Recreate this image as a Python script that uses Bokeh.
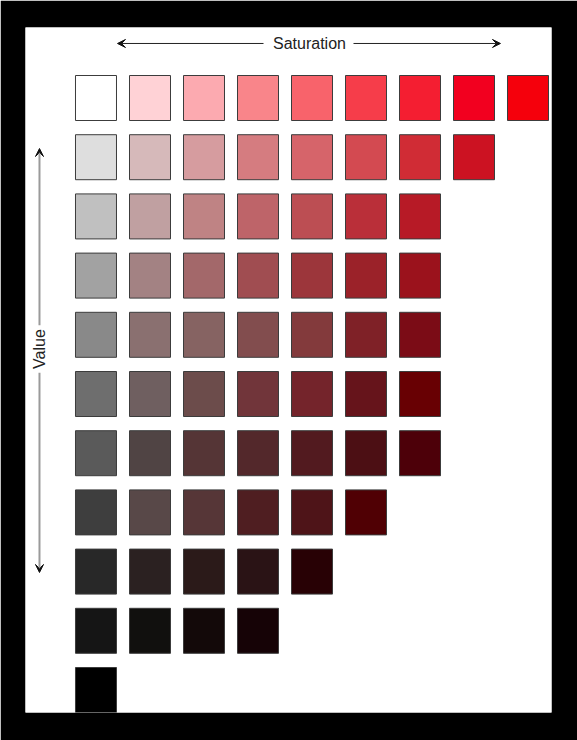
from bokeh.plotting import figure
from bokeh.models import Range1d, Arrow, VeeHead, Label, ColumnDataSource
from bokeh.embed import file_html
from bokeh.resources import INLINE

# Munsell-like value/chroma chart for a red hue
value_levels = [10, 9, 8, 7, 6, 5, 4, 3, 2, 1, 0]
chroma_steps = [0, 2, 4, 6, 8, 10, 12, 14, 16]

colors_v10 = ["#FFFFFF", "#FFD2D6", "#FCAAB0", "#F9858A", "#F8636B", "#F63D4A", "#F41E31", "#F2001F", "#F5000C"]
colors_v9 = ["#DEDEDE", "#D6B9BA", "#D69C9F", "#D57C80", "#D6646A", "#D34A51", "#D02C35", "#CC1222"]
colors_v8 = ["#C0C0C0", "#C0A0A1", "#BF8384", "#BE6469", "#BC4E53", "#BA2F39", "#B71A26"]
colors_v7 = ["#A2A2A2", "#A38283", "#A3686A", "#A04D51", "#9C363B", "#9B2229", "#9B121C"]
colors_v6 = ["#898989", "#8A7070", "#866362", "#824D4E", "#833A3C", "#7F2127", "#7B0C16"]
colors_v5 = ["#6E6E6E", "#6F5F60", "#6C4C4B", "#71353A", "#74242B", "#66141B", "#680003"]
colors_v4 = ["#5A5A5A", "#504444", "#553536", "#53282B", "#521A1F", "#4C0F14", "#4D0009"]
colors_v3 = ["#3E3E3E", "#584848", "#563637", "#4F1E21", "#4E1418", "#500004"]
colors_v2 = ["#282828", "#2B2121", "#2B1A19", "#2A1315", "#280105"]
colors_v1 = ["#151515", "#11100E", "#130909", "#160306"]
colors_v0 = ["#000000"]

rows = [colors_v10, colors_v9, colors_v8, colors_v7, colors_v6, colors_v5,
        colors_v4, colors_v3, colors_v2, colors_v1, colors_v0]

xs, ys, fills = [], [], []
for v, row in zip(value_levels, rows):
    for c, col in zip(chroma_steps, row):
        xs.append(c)
        ys.append(v)
        fills.append(col)
src = ColumnDataSource(dict(x=xs, y=ys, fill=fills))

p = figure(width=577, height=740, output_backend="svg", toolbar_location=None,
           x_range=Range1d(-2.611, 16.870), y_range=Range1d(-0.380, 11.191),
           x_axis_type=None, y_axis_type=None,
           min_border_left=25, min_border_right=26, min_border_top=27, min_border_bottom=28)
p.border_fill_color = "black"
p.background_fill_color = "white"
p.outline_line_color = None
p.grid.visible = False

p.rect(x="x", y="y", width=41, height=45, width_units="screen", height_units="screen",
       source=src, fill_color="fill", line_color="#3c3c3c", line_width=1)

# Saturation arrow (horizontal)
ya = 10.921
p.add_layout(Arrow(end=VeeHead(size=8, fill_color="#111", line_color="#111", line_width=1),
                   x_start=6.204, y_start=ya, x_end=0.796, y_end=ya,
                   line_color="#222", line_width=1))
p.add_layout(Arrow(end=VeeHead(size=8, fill_color="#111", line_color="#111", line_width=1),
                   x_start=9.537, y_start=ya, x_end=14.98, y_end=ya,
                   line_color="#222", line_width=1))
p.add_layout(Label(x=7.907, y=ya, text="Saturation", text_align="center", text_baseline="middle",
                   text_font="Liberation Sans", text_font_size="16px", text_color="#222222"))

# Value arrow (vertical)
xa = -2.093
p.add_layout(Arrow(end=VeeHead(size=8, fill_color="#111", line_color="#111", line_width=1),
                   x_start=xa, y_start=6.16, x_end=xa, y_end=9.147,
                   line_color="#9a9a9a", line_width=2))
p.add_layout(Arrow(end=VeeHead(size=8, fill_color="#111", line_color="#111", line_width=1),
                   x_start=xa, y_start=5.36, x_end=xa, y_end=1.985,
                   line_color="#9a9a9a", line_width=2))
p.add_layout(Label(x=xa, y=5.76, text="Value", angle=1.5708, text_align="center",
                   text_baseline="middle", text_font="Liberation Sans", text_font_size="16px",
                   text_color="#222222"))

open("out.html", "w").write(file_html(p, INLINE))
